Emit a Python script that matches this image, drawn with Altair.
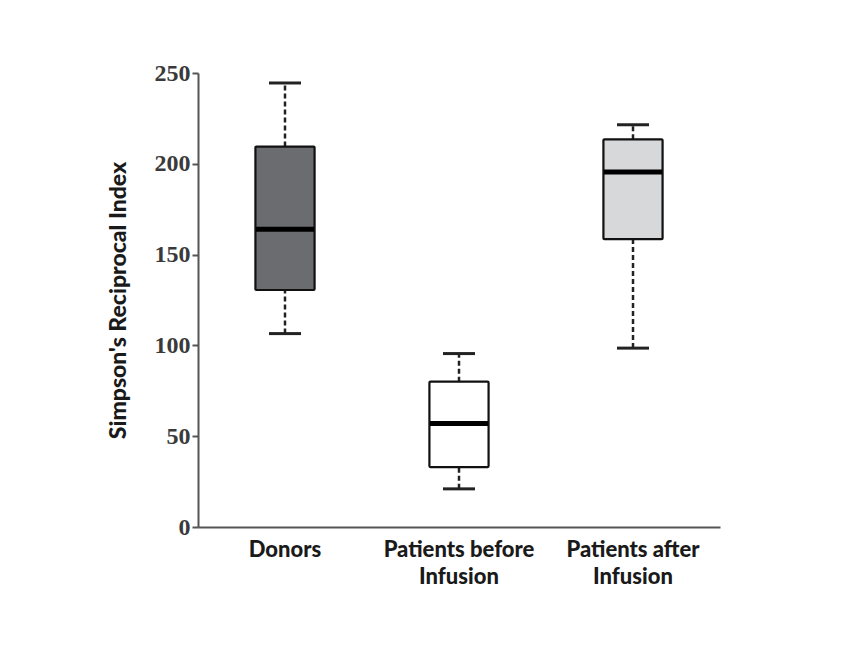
import altair as alt
import pandas as pd

categories = ["Donors", "Patients before\nInfusion", "Patients after\nInfusion"]
whisker_low = [106.5, 21.0, 98.5]
q1 = [130.5, 33.0, 158.5]
median = [164.0, 57.0, 195.5]
q3 = [209.5, 80.0, 213.5]
whisker_high = [244.5, 95.5, 221.5]
fills = ["#6b6c6f", "#ffffff", "#d6d8da"]

df = pd.DataFrame({
    "group": categories,
    "lo": whisker_low,
    "q1": q1,
    "med": median,
    "q3": q3,
    "hi": whisker_high,
    "fill": fills,
})

x = alt.X("group:N", sort=categories, title=None,
          scale=alt.Scale(paddingInner=0.66, paddingOuter=0.33),
          axis=alt.Axis(labelAngle=0, ticks=False, domainColor="#555555", domainWidth=2,
                        labelFont="Lato", labelFontSize=22, labelFontWeight=900,
                        labelColor="#1a1a1a", labelPadding=12, labelLineHeight=27,
                        labelExpr="split(datum.label, '\\n')"))

yscale = alt.Scale(domain=[0, 250], nice=False)
yaxis = alt.Axis(values=[0, 50, 100, 150, 200, 250], grid=False, domainColor="#555555",
                 domainWidth=2, tickColor="#555555", tickWidth=2, tickSize=6, labelPadding=2,
                 labelFont="Liberation Serif", labelFontSize=24, labelFontWeight="bold",
                 labelColor="#3a3a3a", title="Simpson's Reciprocal Index",
                 titleFont="Lato", titleFontSize=23, titleFontWeight=900,
                 titleColor="#1a1a1a", titlePadding=24)

base = alt.Chart(df)

upper = base.mark_rule(color="#222222", strokeWidth=2.5, strokeDash=[5, 3]).encode(
    x=x, y=alt.Y("q3:Q", scale=yscale, axis=yaxis), y2="hi:Q")
lower = base.mark_rule(color="#222222", strokeWidth=2.5, strokeDash=[5, 3]).encode(
    x=x, y=alt.Y("lo:Q", scale=yscale), y2="q1:Q")
box = base.mark_bar(stroke="#111111", strokeWidth=2.2, cornerRadius=1).encode(
    x=x, y=alt.Y("q1:Q", scale=yscale), y2="q3:Q",
    fill=alt.Fill("fill:N", scale=None))
med = base.mark_tick(color="#000000", thickness=5, size=58, opacity=1).encode(
    x=x, y=alt.Y("med:Q", scale=yscale))
cap_hi = base.mark_tick(color="#222222", thickness=3, size=32, opacity=1).encode(
    x=x, y=alt.Y("hi:Q", scale=yscale))
cap_lo = base.mark_tick(color="#222222", thickness=3, size=32, opacity=1).encode(
    x=x, y=alt.Y("lo:Q", scale=yscale))

chart = alt.layer(upper, lower, box, med, cap_hi, cap_lo).properties(
    width=522, height=454,
    autosize=alt.AutoSizeParams(type="none"),
    padding={"left": 190, "top": 65, "right": 110, "bottom": 115},
).configure(background="#ffffff").configure_view(stroke=None)

chart.save("out.html", embed_options={"renderer": "svg", "actions": False})
